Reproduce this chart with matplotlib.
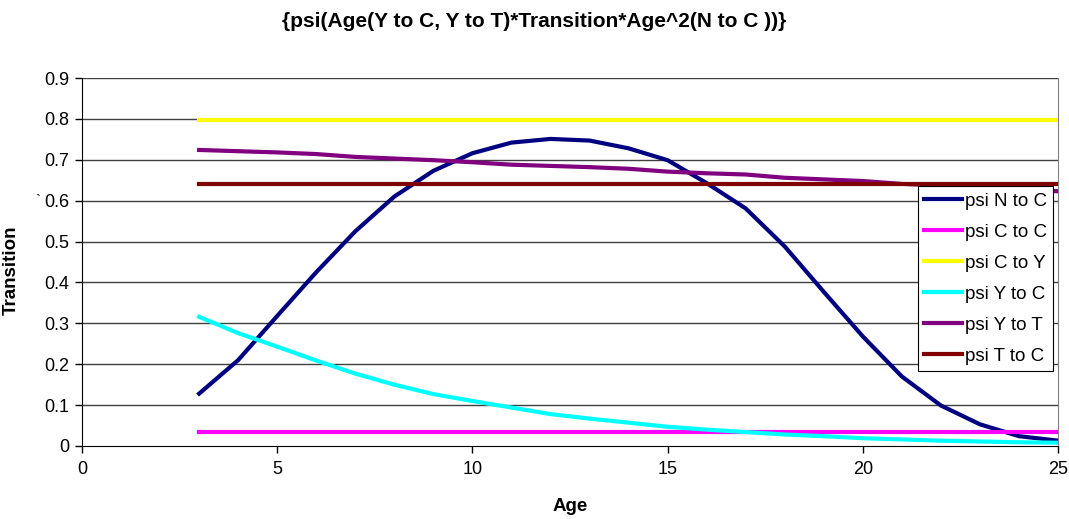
import matplotlib
matplotlib.use("Agg")
import matplotlib.pyplot as plt
from matplotlib.ticker import FormatStrFormatter

# idades e curvas de transicao
idade = list(range(3, 26))

psi_n_c = [0.128, 0.21, 0.318, 0.425, 0.525, 0.61, 0.673, 0.716, 0.742, 0.751,
           0.747, 0.728, 0.699, 0.643, 0.581, 0.488, 0.377, 0.268, 0.17, 0.099,
           0.053, 0.024, 0.013]
psi_c_c = [0.034] * len(idade)
psi_c_y = [0.797] * len(idade)
psi_y_c = [0.316, 0.276, 0.243, 0.209, 0.177, 0.15, 0.127, 0.11, 0.094, 0.078,
           0.067, 0.057, 0.047, 0.04, 0.034, 0.028, 0.024, 0.019, 0.016, 0.013,
           0.011, 0.009, 0.008]
psi_y_t = [0.724, 0.721, 0.718, 0.714, 0.707, 0.703, 0.699, 0.694, 0.688, 0.685,
           0.682, 0.678, 0.671, 0.667, 0.664, 0.656, 0.652, 0.648, 0.641, 0.637,
           0.633, 0.628, 0.623]
psi_t_c = [0.641] * len(idade)

series = [
    ("psi N to C", psi_n_c, "#000080"),
    ("psi C to C", psi_c_c, "#FF00FF"),
    ("psi C to Y", psi_c_y, "#FFFF00"),
    ("psi Y to C", psi_y_c, "#00FFFF"),
    ("psi Y to T", psi_y_t, "#800080"),
    ("psi T to C", psi_t_c, "#800000"),
]

plt.rcParams['font.family'] = ['Liberation Sans', 'DejaVu Sans']

fig = plt.figure(figsize=(10.69, 5.19), dpi=100)
ax = fig.add_axes([0.0767, 0.1407, 0.913, 0.709])

for y in [0.1 * i for i in range(1, 10)]:
    ax.axhline(y, color='#404040', linewidth=1, zorder=1)

for nome, valores, cor in series:
    ax.plot(idade, valores, color=cor, linewidth=3, label=nome, zorder=3)

ax.set_xlim(0, 25)
ax.set_ylim(0, 0.9)
ax.set_xticks([0, 5, 10, 15, 20, 25])
ax.set_yticks([0.1 * i for i in range(10)])
ax.yaxis.set_major_formatter(FormatStrFormatter('%g'))
ax.tick_params(labelsize=13, length=5, width=1, color='black', direction='out')
ax.tick_params(axis='x', pad=6)
ax.tick_params(axis='y', pad=4)

ax.spines['top'].set_visible(False)
ax.spines['right'].set_color('#808080')
ax.spines['left'].set_color('black')
ax.spines['bottom'].set_color('black')

ax.set_xlabel('Age', fontsize=13.5, fontweight='bold')
ax.xaxis.set_label_coords(0.5, -0.142)
ax.set_ylabel('Transition', fontsize=13.5, fontweight='bold')
ax.yaxis.set_label_coords(-0.0635, 0.478)
fig.text(0.033, 0.605, '`', fontsize=11)

fig.text(0.5, 0.958, '{psi(Age(Y to C, Y to T)*Transition*Age^2(N to C ))}',
         fontsize=15, fontweight='bold', ha='center', va='center')

leg = ax.legend(loc='upper right', bbox_to_anchor=(0.995, 0.7065), fontsize=13.5,
                handlelength=2.0, labelspacing=0.74, handletextpad=0.15,
                borderaxespad=0, fancybox=False, framealpha=1, borderpad=0.35)
leg.get_frame().set_edgecolor('black')
leg.get_frame().set_linewidth(0.8)

fig.savefig('out.png', dpi=100)
